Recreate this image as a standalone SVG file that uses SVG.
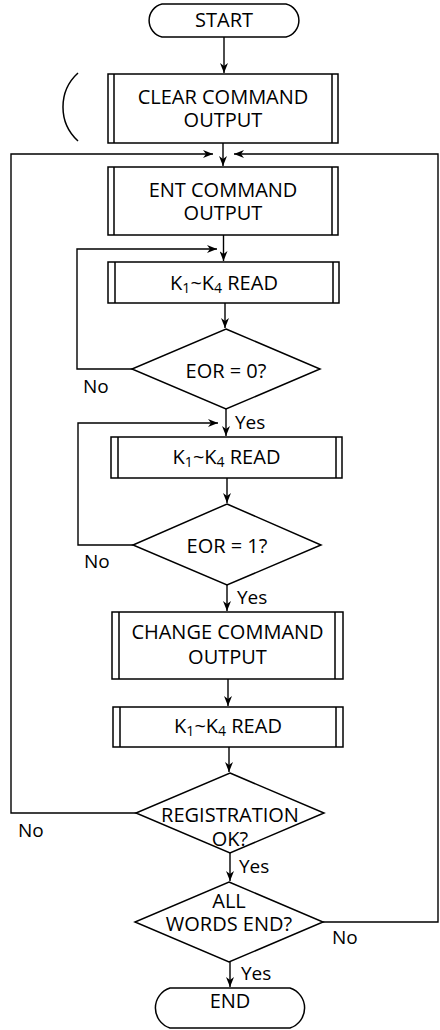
<svg xmlns="http://www.w3.org/2000/svg" width="440" height="1030" viewBox="0 0 440 1030">
<defs>
<marker id="arr" viewBox="0 0 10 8" refX="10" refY="4" markerWidth="10" markerHeight="8" markerUnits="userSpaceOnUse" orient="auto">
<path d="M0,0 L10,4 L0,8 L3,4 Z" fill="#000"/>
</marker>
<style>
.s{fill:#fff;stroke:#000;stroke-width:1.5}
.l{fill:none;stroke:#000;stroke-width:1.5}
.c{fill:none;stroke:#000;stroke-width:1.4}
.t{font-family:"Open Sans","Liberation Sans",sans-serif;font-size:20px;fill:#000;text-anchor:middle}
.y{font-family:"Open Sans","Liberation Sans",sans-serif;font-size:19px;fill:#000}
.sub{font-size:14px}
</style>
</defs>
<rect width="440" height="1030" fill="#fff"/>
<g id="connectors">
<path class="c" d="M224,37 V73" marker-end="url(#arr)"/>
<path class="c" d="M223,143 V166" marker-end="url(#arr)"/>
<path class="c" d="M137,813 H11 V154 H213" marker-end="url(#arr)"/>
<path class="c" d="M323,922 H438 V154 H234" marker-end="url(#arr)"/>
<path class="c" d="M223.5,235 V261" marker-end="url(#arr)"/>
<path class="c" d="M132,369 H77 V249 H217" marker-end="url(#arr)"/>
<path class="c" d="M225,303 V328" marker-end="url(#arr)"/>
<path class="c" d="M226,409 V436" marker-end="url(#arr)"/>
<path class="c" d="M133,545 H78 V423 H218" marker-end="url(#arr)"/>
<path class="c" d="M227,478 V503" marker-end="url(#arr)"/>
<path class="c" d="M227,585 V611" marker-end="url(#arr)"/>
<path class="c" d="M228,679 V706" marker-end="url(#arr)"/>
<path class="c" d="M229,747 V772" marker-end="url(#arr)"/>
<path class="c" d="M230,853 V881" marker-end="url(#arr)"/>
<path class="c" d="M230,962 V987" marker-end="url(#arr)"/>
<path class="l" d="M78,73 A46,46 0 0 0 78,141"/>
<text class="y" x="83" y="393">No</text>
<text class="y" x="235" y="429">Yes</text>
<text class="y" x="84" y="568">No</text>
<text class="y" x="237" y="604">Yes</text>
<text class="y" x="18" y="837">No</text>
<text class="y" x="239" y="873">Yes</text>
<text class="y" x="332" y="944">No</text>
<text class="y" x="241" y="980">Yes</text>
</g>
<g id="start">
<path class="s" d="M162,4 H286 A17,17 0 0 1 286,37 H162 A17,17 0 0 1 162,4 Z"/>
<text class="t" x="224" y="27">START</text>
</g>
<g id="clear">
<rect class="s" x="108" y="74" width="230" height="69"/>
<path class="l" d="M114,74 V143 M332,74 V143"/>
<text class="t" x="223" y="104">CLEAR COMMAND</text>
<text class="t" x="223" y="127">OUTPUT</text>
</g>
<g id="ent">
<rect class="s" x="108" y="167" width="230" height="68"/>
<path class="l" d="M114,167 V235 M332,167 V235"/>
<text class="t" x="223" y="197">ENT COMMAND</text>
<text class="t" x="223" y="220">OUTPUT</text>
</g>
<g id="read1">
<rect class="s" x="108" y="262" width="231" height="41"/>
<path class="l" d="M115,262 V303 M333,262 V303"/>
<text class="t" x="224" y="290">K<tspan class="sub" dy="3">1</tspan><tspan dy="-3">~K</tspan><tspan class="sub" dy="3">4</tspan><tspan dy="-3"> READ</tspan></text>
</g>
<g id="eor0">
<path class="s" d="M226,329 L320,369 L226,409 L132,369 Z"/>
<text class="t" x="226" y="378">EOR = 0?</text>
</g>
<g id="read2">
<rect class="s" x="111" y="437" width="231" height="41"/>
<path class="l" d="M118,437 V478 M336,437 V478"/>
<text class="t" x="226.5" y="464">K<tspan class="sub" dy="3">1</tspan><tspan dy="-3">~K</tspan><tspan class="sub" dy="3">4</tspan><tspan dy="-3"> READ</tspan></text>
</g>
<g id="eor1">
<path class="s" d="M227,504 L321,545 L227,585 L133,545 Z"/>
<text class="t" x="227" y="553">EOR = 1?</text>
</g>
<g id="change">
<rect class="s" x="112" y="612" width="231" height="67"/>
<path class="l" d="M119,612 V679 M335,612 V679"/>
<text class="t" x="227.5" y="639">CHANGE COMMAND</text>
<text class="t" x="227.5" y="664">OUTPUT</text>
</g>
<g id="read3">
<rect class="s" x="113" y="707" width="230" height="40"/>
<path class="l" d="M120,707 V747 M336,707 V747"/>
<text class="t" x="228" y="733">K<tspan class="sub" dy="3">1</tspan><tspan dy="-3">~K</tspan><tspan class="sub" dy="3">4</tspan><tspan dy="-3"> READ</tspan></text>
</g>
<g id="registration">
<path class="s" d="M230,773 L324,813 L230,853 L136,813 Z"/>
<text class="t" x="230" y="822">REGISTRATION</text>
<text class="t" x="230" y="846">OK?</text>
</g>
<g id="allwords">
<path class="s" d="M229,882 L323,922 L229,962 L135,922 Z"/>
<text class="t" x="229" y="908">ALL</text>
<text class="t" x="229" y="931">WORDS END?</text>
</g>
<g id="end">
<path class="s" d="M170,988 H290 A21,21 0 0 1 290,1028 H170 A21,21 0 0 1 170,988 Z"/>
<text class="t" x="230" y="1008">END</text>
</g>
</svg>
